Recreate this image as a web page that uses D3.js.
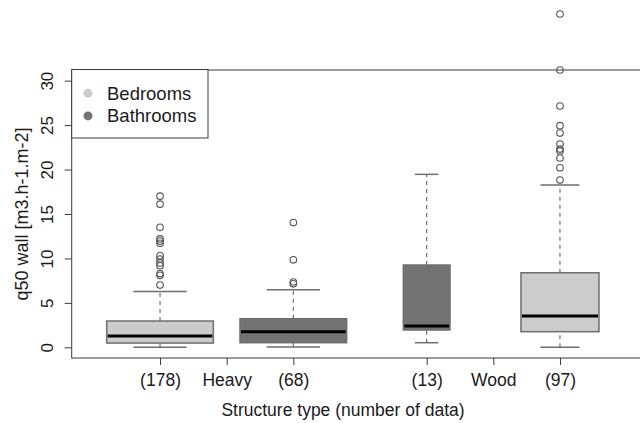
<!DOCTYPE html>
<html>
<head>
<meta charset="utf-8">
<script src="https://cdn.jsdelivr.net/npm/d3@7"></script>
<style>
  html, body { margin: 0; padding: 0; background: #fff; }
  svg { display: block; }
  text { font-family: "Liberation Sans", Arial, sans-serif; fill: #1a1a1a; }
</style>
</head>
<body>
<svg id="chart" width="640" height="423"></svg>
<script>
// ---- data ----
const boxLabels   = ["(178)", "(68)", "(13)", "(97)"];
const boxPos      = [1, 3, 5, 7];
const boxSeries   = ["Bedrooms", "Bathrooms", "Bathrooms", "Bedrooms"];
const boxRelWidth = [1.6, 1.6, 0.7, 1.17];
const whiskLo = [0.0, 0.03, 0.52, 0.0];
const q1      = [0.48, 0.52, 1.95, 1.76];
const median  = [1.27, 1.76, 2.40, 3.52];
const q3      = [2.96, 3.22, 9.26, 8.39];
const whiskHi = [6.28, 6.48, 19.46, 18.26];
const outliers = [
  [17.0, 16.1, 13.5, 12.2, 11.95, 11.7, 10.3, 9.93, 9.5, 9.18, 8.3, 8.1, 7.0],
  [14.03, 9.85, 7.35, 7.15],
  [],
  [37.5, 31.2, 27.15, 24.94, 24.1, 22.87, 22.3, 22.1, 21.3, 20.2, 18.82]
];
const xTickPos    = [1, 2, 3, 5, 6, 7];
const xTickLabels = ["(178)", "Heavy", "(68)", "(13)", "Wood", "(97)"];
const yTicks      = [0, 5, 10, 15, 20, 25, 30];
const seriesNames  = ["Bedrooms", "Bathrooms"];
const seriesColors = ["#cccccc", "#737373"];

// ---- layout ----
const svg = d3.select("#chart");
const pL = 71.7, pR = 653.3, pT = 70, pB = 358;
const x = d3.scaleLinear().domain([-0.325, 8.4]).range([pL, pR]);
const y = d3.scaleLinear().domain([-1.2, 31.2]).range([pB, pT]);
const color = d3.scaleOrdinal().domain(seriesNames).range(seriesColors);
const unit = x(1) - x(0);

// frame
svg.append("rect").attr("x", pL).attr("y", pT)
  .attr("width", pR - pL).attr("height", pB - pT)
  .attr("fill", "none").attr("stroke", "#3a3a3a").attr("stroke-width", 1);

// y axis
const yAxis = svg.append("g").attr("transform", `translate(${pL},0)`)
  .call(d3.axisLeft(y).tickValues(yTicks).tickSize(7).tickPadding(0).tickFormat(d3.format("d")));
yAxis.select(".domain").remove();
yAxis.selectAll("line").attr("stroke", "#3a3a3a");
yAxis.selectAll("text").remove();
yAxis.selectAll(".tick").append("text")
  .attr("transform", "translate(-19,0) rotate(-90)")
  .attr("text-anchor", "middle")
  .attr("font-size", 17)
  .text(d => d);

// x axis
const xAxis = svg.append("g").attr("transform", `translate(0,${pB})`)
  .call(d3.axisBottom(x).tickValues(xTickPos).tickSize(7).tickPadding(9)
    .tickFormat((d, i) => xTickLabels[i]));
xAxis.select(".domain").remove();
xAxis.selectAll("line").attr("stroke", "#3a3a3a");
xAxis.selectAll("text").attr("font-size", 17.5).attr("fill", "#1a1a1a")
  .attr("font-family", "Liberation Sans, Arial, sans-serif");

// axis titles
svg.append("text").attr("x", 343).attr("y", 416).attr("text-anchor", "middle")
  .attr("font-size", 17.5).text("Structure type (number of data)");
svg.append("text").attr("transform", `translate(28,${(pT + pB) / 2}) rotate(-90)`)
  .attr("text-anchor", "middle").attr("font-size", 18).text("q50 wall [m3.h-1.m-2]");

// boxes
const boxes = boxPos.map((p, i) => ({
  p, w: boxRelWidth[i], s: boxSeries[i], lo: whiskLo[i], q1: q1[i], med: median[i],
  q3: q3[i], hi: whiskHi[i], out: outliers[i]
}));
const g = svg.append("g");
const bx = g.selectAll("g.box").data(boxes).join("g").attr("class", "box");
const stroke = "#6e6e6e";
// whiskers (dashed)
bx.append("line").attr("x1", d => x(d.p)).attr("x2", d => x(d.p))
  .attr("y1", d => y(d.q3)).attr("y2", d => y(d.hi))
  .attr("stroke", stroke).attr("stroke-width", 1.2).attr("stroke-dasharray", "4,4");
bx.append("line").attr("x1", d => x(d.p)).attr("x2", d => x(d.p))
  .attr("y1", d => y(d.lo)).attr("y2", d => y(d.q1))
  .attr("stroke", stroke).attr("stroke-width", 1.2).attr("stroke-dasharray", "4,4");
// caps
bx.append("line").attr("x1", d => x(d.p) - d.w * unit / 4).attr("x2", d => x(d.p) + d.w * unit / 4)
  .attr("y1", d => y(d.hi)).attr("y2", d => y(d.hi)).attr("stroke", stroke).attr("stroke-width", 1.5);
bx.append("line").attr("x1", d => x(d.p) - d.w * unit / 4).attr("x2", d => x(d.p) + d.w * unit / 4)
  .attr("y1", d => y(d.lo)).attr("y2", d => y(d.lo)).attr("stroke", stroke).attr("stroke-width", 1.5);
// box
bx.append("rect").attr("x", d => x(d.p) - d.w * unit / 2).attr("width", d => d.w * unit)
  .attr("y", d => y(d.q3)).attr("height", d => y(d.q1) - y(d.q3))
  .attr("fill", d => color(d.s)).attr("stroke", stroke).attr("stroke-width", 1.5);
// median
bx.append("line").attr("x1", d => x(d.p) - d.w * unit / 2 + 1).attr("x2", d => x(d.p) + d.w * unit / 2 - 1)
  .attr("y1", d => y(d.med)).attr("y2", d => y(d.med)).attr("stroke", "#000").attr("stroke-width", 3);
// outliers
bx.selectAll("circle").data(d => d.out.map(v => ({ p: d.p, v }))).join("circle")
  .attr("cx", d => x(d.p)).attr("cy", d => y(d.v)).attr("r", 3.3)
  .attr("fill", "none").attr("stroke", "#555").attr("stroke-width", 1.1);

// legend
const lg = svg.append("g");
lg.append("rect").attr("x", pL).attr("y", pT - 0.5).attr("width", 208 - pL).attr("height", 138 - pT + 0.5)
  .attr("fill", "#fff").attr("stroke", "#3a3a3a").attr("stroke-width", 1);
const li = lg.selectAll("g.item").data(seriesNames).join("g").attr("class", "item")
  .attr("transform", (d, i) => `translate(0,${93.3 + i * 22.6})`);
li.append("circle").attr("cx", 88).attr("cy", 0).attr("r", 4.5).attr("fill", d => color(d));
li.append("text").attr("x", 107).attr("y", 6.5).attr("font-size", 18.5).text(d => d);
</script>
</body>
</html>
